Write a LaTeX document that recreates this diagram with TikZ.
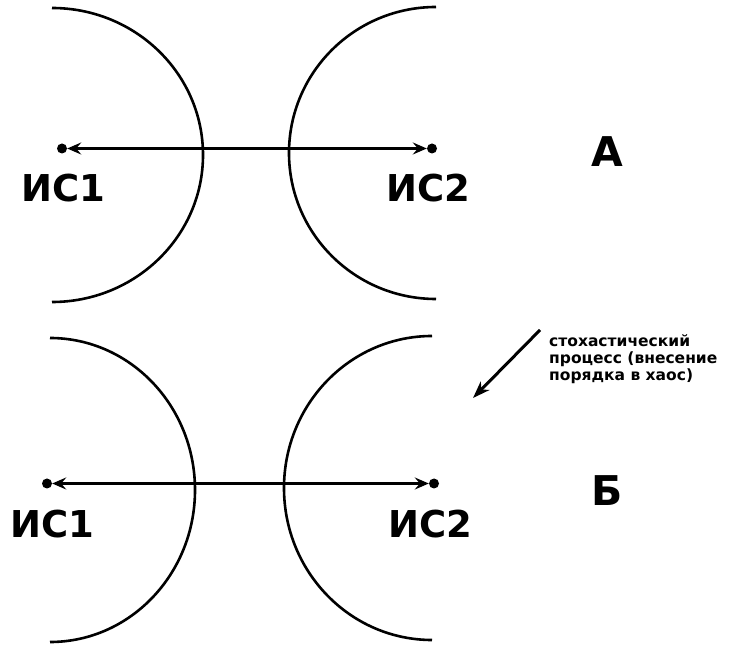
\documentclass[tikz,border=0pt]{standalone}
\usepackage{fontspec}
\setmainfont{DejaVu Sans}
\usetikzlibrary{arrows.meta}
\begin{document}
\begin{tikzpicture}[x=1pt,y=1pt,
  arcline/.style={line width=2.6pt},
  dotnode/.style={circle,fill=black,inner sep=0pt,minimum size=10pt},
  link/.style={line width=2.4pt,{Stealth[length=14pt,width=12pt,inset=5pt]}-{Stealth[length=14pt,width=12pt,inset=5pt]}},
  lbl/.style={font=\bfseries\fontsize{37}{37}\selectfont,inner sep=0pt,anchor=base},
  panel/.style={font=\bfseries\fontsize{41}{41}\selectfont,inner sep=0pt,anchor=base},
  note/.style={font=\bfseries\fontsize{15.5}{17}\selectfont,inner sep=0pt,align=left,anchor=north west}]
\useasboundingbox[fill=white] (0,0) rectangle (733,645);
% panel A arcs
\draw[arcline] (52,637) arc[start angle=90,end angle=-90,x radius=151pt,y radius=147pt];
\draw[arcline] (436,638) arc[start angle=90,end angle=270,x radius=147pt,y radius=146pt];
% panel B arcs
\draw[arcline] (50,307) arc[start angle=90,end angle=-90,x radius=145pt,y radius=152pt];
\draw[arcline] (432,309) arc[start angle=90,end angle=270,x radius=148pt,y radius=152pt];
% panel A
\node[dotnode] (a1) at (62,496.5) {};
\node[dotnode] (a2) at (432,496.5) {};
\draw[link] (a1) -- (a2);
\node[lbl] (la1) at (63,443) {ИС1};
\node[lbl] (la2) at (428,443) {ИС2};
\node[panel] (pa) at (607,478) {А};
% panel B
\node[dotnode] (b1) at (47,161.5) {};
\node[dotnode] (b2) at (434,161.5) {};
\draw[link] (b1) -- (b2);
\node[lbl] (lb1) at (52,107) {ИС1};
\node[lbl] (lb2) at (430,107) {ИС2};
\node[panel] (pb) at (607,139) {Б};
% note
\node[note] (txt) at (549,311) {стохастический\\процесс (внесение\\порядка в хаос)};
\coordinate (s) at (540,315);
\coordinate (e) at (473,247);
\draw[line width=3pt,-{Stealth[length=17pt,width=12pt,inset=5pt]}] (s) -- (e);
\end{tikzpicture}
\end{document}
